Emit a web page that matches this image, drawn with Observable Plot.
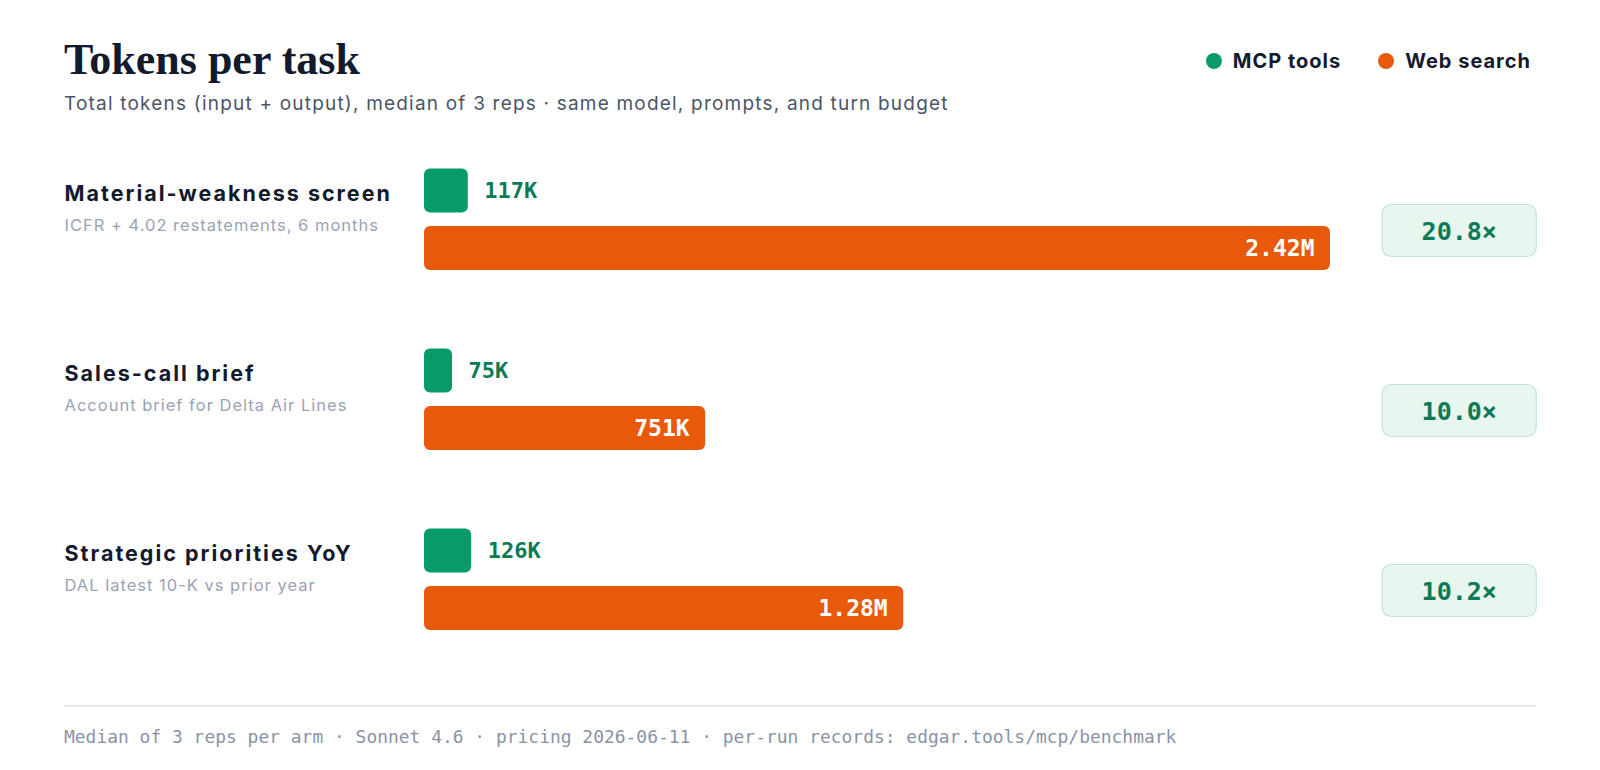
<!DOCTYPE html>
<html>
<head>
<meta charset="utf-8">
<script src="https://cdn.jsdelivr.net/npm/d3@7"></script>
<script src="https://cdn.jsdelivr.net/npm/@observablehq/plot@0.6"></script>
<style>
  html, body { margin: 0; padding: 0; background: #ffffff; }
  #page { position: relative; width: 1600px; height: 770px; overflow: hidden; font-family: Inter, "Noto Sans", sans-serif; }
  #title { position: absolute; left: 64px; top: 34px; font-family: "Liberation Serif", serif; font-weight: 700; font-size: 44px; color: #131a2e; line-height: 52px; white-space: nowrap; }
  #subtitle { position: absolute; left: 64px; top: 92px; font-size: 19px; letter-spacing: 1.2px; color: #4b5568; line-height: 24px; white-space: nowrap; }
  #legend { position: absolute; right: 69px; top: 48px; display: flex; align-items: center; gap: 37px; font-size: 20px; letter-spacing: 1px; font-weight: 700; color: #131a2e; line-height: 26px; }
  #legend .item { display: flex; align-items: center; gap: 11px; }
  #legend .dot { width: 16px; height: 16px; border-radius: 50%; display: inline-block; }
  #chart { position: absolute; left: 0; top: 140px; }
  #rule { position: absolute; left: 64px; top: 705px; width: 1472px; height: 0; border-top: 2px solid #e6e8ec; }
  #footer { position: absolute; left: 64px; top: 726px; font-family: "DejaVu Sans Mono", monospace; font-size: 17.95px; color: #8a93a6; line-height: 22px; white-space: nowrap; }
</style>
</head>
<body>
<div id="page">
  <div id="title">Tokens per task</div>
  <div id="subtitle">Total tokens (input + output), median of 3 reps · same model, prompts, and turn budget</div>
  <div id="legend"></div>
  <div id="chart"></div>
  <div id="rule"></div>
  <div id="footer">Median of 3 reps per arm · Sonnet 4.6 · pricing 2026-06-11 · per-run records: edgar.tools/mcp/benchmark</div>
</div>
<script>
// ---- data ----
const tasks = ["Material-weakness screen", "Sales-call brief", "Strategic priorities YoY"];
const taskNotes = ["ICFR + 4.02 restatements, 6 months", "Account brief for Delta Air Lines", "DAL latest 10-K vs prior year"];
const mcpTokensK = [117, 75, 126];      // thousands of tokens, MCP tools arm
const webTokensK = [2420, 751, 1280];   // thousands of tokens, Web search arm
const ratioLabels = ["20.8×", "10.0×", "10.2×"];
const seriesNames = ["MCP tools", "Web search"];
const seriesColors = ["#089a6b", "#e8590c"];

// ---- derived table ----
const fmt = k => k >= 1000 ? (k / 1000).toFixed(2) + "M" : k + "K";
const rows = tasks.map((t, i) => ({
  task: t, note: taskNotes[i], mcp: mcpTokensK[i], web: webTokensK[i], ratio: ratioLabels[i]
}));

// legend
const legend = document.getElementById("legend");
seriesNames.forEach((n, i) => {
  const it = document.createElement("span");
  it.className = "item";
  it.innerHTML = `<span class="dot" style="background:${seriesColors[i]}"></span><span>${n}</span>`;
  legend.appendChild(it);
});

// rounded-rect badge symbol
const badge = {
  draw(ctx) {
    const w = 77, h = 26, r = 9;
    ctx.moveTo(-w + r, -h);
    ctx.lineTo(w - r, -h);
    ctx.arcTo(w, -h, w, -h + r, r);
    ctx.lineTo(w, h - r);
    ctx.arcTo(w, h, w - r, h, r);
    ctx.lineTo(-w + r, h);
    ctx.arcTo(-w, h, -w, h - r, r);
    ctx.lineTo(-w, -h + r);
    ctx.arcTo(-w, -h, -w + r, -h, r);
    ctx.closePath();
  }
};

const mono = "'DejaVu Sans Mono', monospace";
const sans = "Inter, 'Noto Sans', sans-serif";

const chart = Plot.plot({
  width: 1600,
  height: 540,
  marginLeft: 424,
  marginRight: 270,
  marginTop: 0,
  marginBottom: 0,
  style: { background: "transparent", overflow: "visible" },
  x: { domain: [0, 2420], axis: null },
  y: { domain: tasks, padding: 0, axis: null },
  marks: [
    // bars
    Plot.barX(rows, { x: "mcp", y: "task", fill: seriesColors[0], rx: 6, insetTop: 28.5, insetBottom: 107.5 }),
    Plot.barX(rows, { x: "web", y: "task", fill: seriesColors[1], rx: 6, insetTop: 86, insetBottom: 50 }),
    // value labels
    Plot.text(rows, { x: "mcp", y: "task", text: d => fmt(d.mcp), dx: 16, dy: -39.5, textAnchor: "start",
      fill: "#0b7a55", fontFamily: mono, fontWeight: 700, fontSize: 22 }),
    Plot.text(rows, { x: "web", y: "task", text: d => fmt(d.web), dx: -16, dy: 18, textAnchor: "end",
      fill: "#ffffff", fontFamily: mono, fontWeight: 700, fontSize: 23 }),
    // task labels
    Plot.text(rows, { y: "task", text: "task", frameAnchor: "left", dx: -360, dy: -36, textAnchor: "start",
      fill: "#131a2e", fontFamily: sans, fontWeight: 700, fontSize: 21.5 }),
    Plot.text(rows, { y: "task", text: "note", frameAnchor: "left", dx: -360, dy: -4.5, textAnchor: "start",
      fill: "#9aa3b4", fontFamily: sans, fontSize: 16.5 }),
    // ratio badges
    Plot.dot(rows, { y: "task", frameAnchor: "right", dx: 128.7, symbol: badge, fill: "#e7f6ee", stroke: "#bfe5d2", strokeWidth: 1.2 }),
    Plot.text(rows, { y: "task", text: "ratio", frameAnchor: "right", dx: 128.7, dy: 1, textAnchor: "middle",
      fill: "#0b7a55", fontFamily: mono, fontWeight: 700, fontSize: 25 })
  ]
});
// widen the sans labels to the reference's letter widths
d3.select(chart).selectAll("text").each(function () {
  const t = this.textContent;
  if (tasks.includes(t)) this.setAttribute("letter-spacing", "2");
  else if (taskNotes.includes(t)) this.setAttribute("letter-spacing", "1");
});
document.getElementById("chart").appendChild(chart);
</script>
</body>
</html>
